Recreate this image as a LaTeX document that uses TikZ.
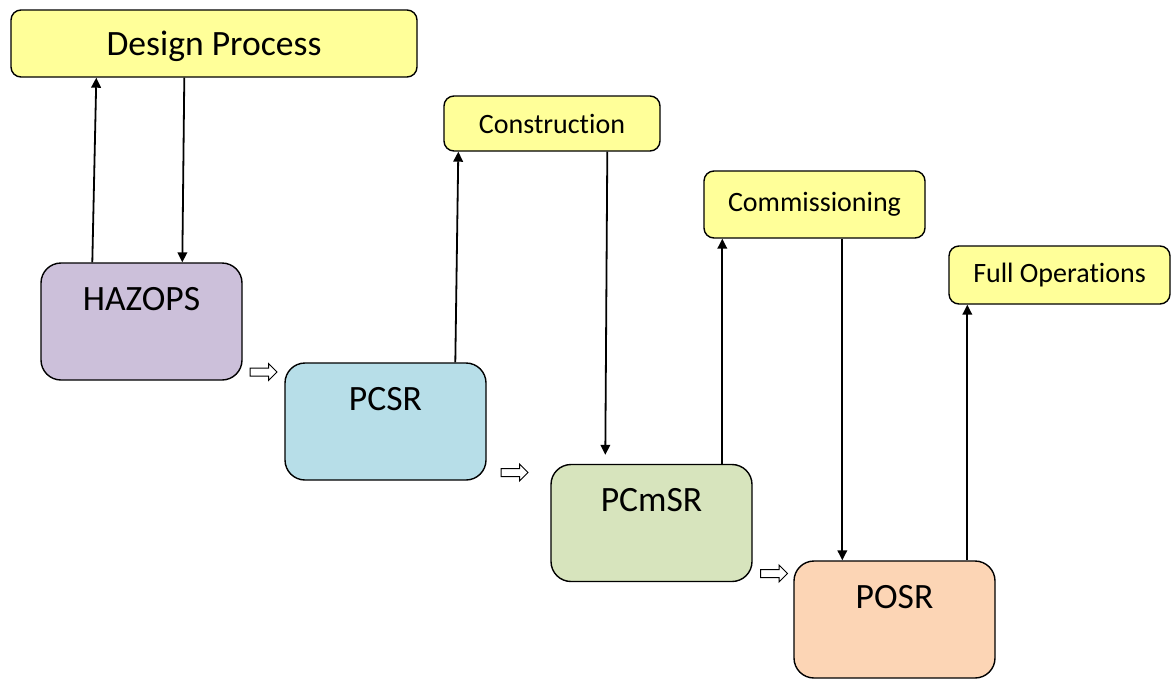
\documentclass[tikz,border=0pt]{standalone}
\usepackage{fontspec}
\setmainfont[Ligatures=NoCommon]{Carlito}
\usepackage{tikz}
\usepackage{xcolor}
\usetikzlibrary{arrows.meta,calc,shapes.arrows}
\definecolor{task-yellow}{HTML}{FFFF99}
\definecolor{hazop-lilac}{HTML}{CCC0DA}
\definecolor{pcsr-blue}{HTML}{B7DEE8}
\definecolor{pcmsr-green}{HTML}{D7E4BD}
\definecolor{posr-peach}{HTML}{FCD5B5}
\tikzset{
    stage-box/.style = {draw, line width=0.7pt, rounded corners=10pt, inner sep=0pt, minimum width=100.5pt, text height=23.5pt, text depth=35pt, font=\fontsize{17.8}{20}\selectfont},
    task-box/.style = {draw, fill=task-yellow, line width=0.7pt, rounded corners=5pt, inner sep=0pt, font=\fontsize{14}{16}\selectfont},
    next-arrow/.style = {draw, fill=white, line width=0.5pt, single arrow, single arrow head extend=2.25pt, inner sep=1.75pt, minimum height=13.5pt},
    link/.style = {line width=0.9pt, -{Triangle[length=5pt,width=4.8pt]}},
}
\begin{document}
\begin{tikzpicture}[x=0.5pt,y=-0.5pt]
\useasboundingbox (0,0) rectangle (1172,686);
\node[task-box, minimum width=203pt, minimum height=33.5pt, text depth=0pt, font=\fontsize{17.8}{20}\selectfont] (design) at (214,43.5) {Design Process};
\node[task-box, minimum width=108pt, minimum height=27.5pt] (construction) at (552,123.5) {Construction};
\node[task-box, minimum width=110.5pt, minimum height=33.5pt] (commissioning) at (814.5,204.5) {Commissioning};
\node[task-box, minimum width=110.5pt, minimum height=29pt] (fullops) at (1059.5,275) {Full Operations};
\node[stage-box, fill=hazop-lilac] (hazops) at (141.5,321.5) {HAZOPS};
\node[stage-box, fill=pcsr-blue] (pcsr) at (385.5,421.5) {PCSR};
\node[stage-box, fill=pcmsr-green] (pcmsr) at (651.5,523) {PCmSR};
\node[stage-box, fill=posr-peach] (posr) at (894.5,619.5) {POSR};
\node[next-arrow] (step1) at (261.5,372) {};
\node[next-arrow] (step2) at (512.5,472.5) {};
\node[next-arrow] (step3) at (772,573.5) {};
\draw[link] ($(hazops.north west)+(52,0)$) -- ($(design.south west)+(86,0)$);
\draw[link] ($(design.south west)+(174,0)$) -- ($(hazops.north west)+(142,0)$);
\draw[link] ($(pcsr.north west)+(171,0)$) -- ($(construction.south west)+(15,0)$);
\draw[link] ($(construction.south west)+(164,0)$) -- ($(pcmsr.north west)+(55,-9)$);
\draw[link] ($(pcmsr.north west)+(172,0)$) -- ($(commissioning.south west)+(19,0)$);
\draw[link] ($(commissioning.south west)+(139,0)$) -- ($(posr.north west)+(49,0)$);
\draw[link] ($(posr.north west)+(174,0)$) -- ($(fullops.south west)+(19,0)$);
\end{tikzpicture}
\end{document}
